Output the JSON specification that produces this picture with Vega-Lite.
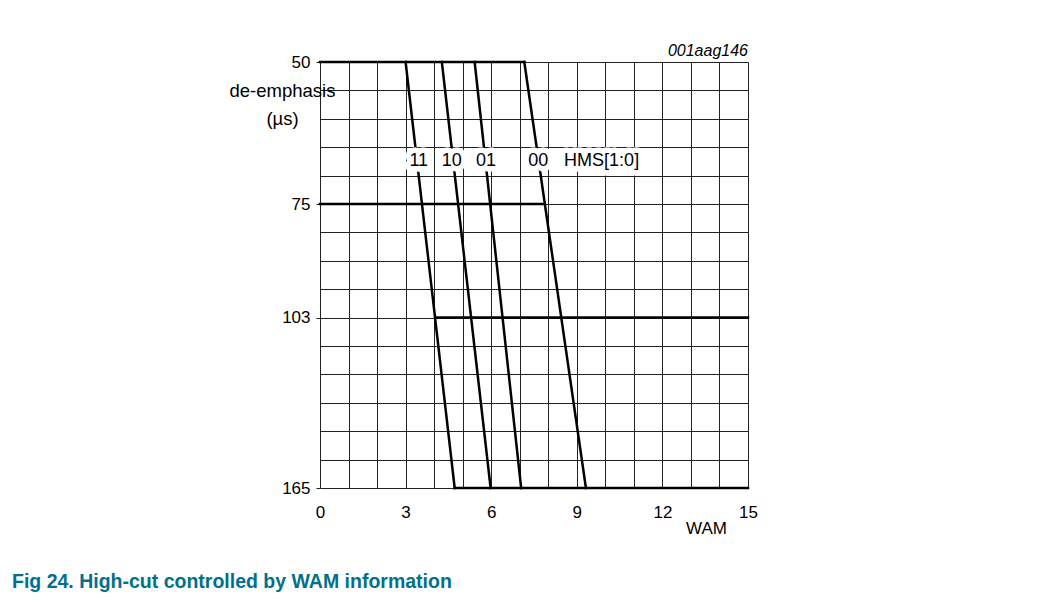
{
  "$schema": "https://vega.github.io/schema/vega-lite/v6.json",
  "width": 428,
  "height": 426,
  "autosize": {"type": "none"},
  "padding": {"left": 320, "top": 62, "right": 305, "bottom": 115},
  "background": "white",
  "config": {"view": {"stroke": null}, "font": "Liberation Sans"},
  "title": {
    "text": "Fig 24. High-cut controlled by WAM information",
    "orient": "bottom",
    "anchor": "start",
    "frame": "group",
    "dx": -308,
    "offset": 37,
    "font": "Liberation Sans",
    "fontSize": 19.5,
    "fontWeight": "bold",
    "color": "#00708c"
  },
  "datasets": {
    "lines": [
      {"series": "50 us", "wam": 0, "deemph": 50},
      {"series": "50 us", "wam": 7.16, "deemph": 50},
      {"series": "75 us", "wam": 0, "deemph": 75},
      {"series": "75 us", "wam": 7.88, "deemph": 75},
      {"series": "103 us", "wam": 4.05, "deemph": 103},
      {"series": "103 us", "wam": 15, "deemph": 103},
      {"series": "165 us", "wam": 4.72, "deemph": 165},
      {"series": "165 us", "wam": 15, "deemph": 165},
      {"series": "11", "wam": 3.0, "deemph": 50},
      {"series": "11", "wam": 4.72, "deemph": 165},
      {"series": "10", "wam": 4.27, "deemph": 50},
      {"series": "10", "wam": 5.98, "deemph": 165},
      {"series": "01", "wam": 5.42, "deemph": 50},
      {"series": "01", "wam": 7.05, "deemph": 165},
      {"series": "00", "wam": 7.16, "deemph": 50},
      {"series": "00", "wam": 9.32, "deemph": 165}
    ],
    "labels": [
      {"label": "11", "wam": 3.46, "deemph": 67.5},
      {"label": "10", "wam": 4.62, "deemph": 67.5},
      {"label": "01", "wam": 5.82, "deemph": 67.5},
      {"label": "00", "wam": 7.65, "deemph": 67.5},
      {"label": "HMS[1:0]", "wam": 9.87, "deemph": 67.5}
    ],
    "figid": [
      {"label": "001aag146", "wam": 15, "deemph": 50}
    ]
  },
  "encoding": {
    "x": {
      "field": "wam",
      "type": "quantitative",
      "scale": {"domain": [0, 15], "nice": false, "zero": false},
      "axis": {
        "values": [0, 1, 2, 3, 4, 5, 6, 7, 8, 9, 10, 11, 12, 13, 14, 15],
        "labelExpr": "datum.value % 3 == 0 ? '' + datum.value : ''",
        "grid": true,
        "gridColor": "#222222",
        "gridWidth": 1,
        "gridOpacity": 1,
        "domain": false,
        "ticks": false,
        "tickSize": 0,
        "labelPadding": 16,
        "labelFontSize": 17,
        "labelFont": "Liberation Sans",
        "labelColor": "black",
        "labelFlush": false,
        "labelOverlap": false,
        "title": "WAM",
        "titleX": 386,
        "titleY": 45,
        "titleAlign": "center",
        "titleBaseline": "alphabetic",
        "titleFontWeight": "normal",
        "titleFontSize": 17,
        "titleFont": "Liberation Sans",
        "titleColor": "black"
      }
    },
    "y": {
      "field": "deemph",
      "type": "quantitative",
      "scale": {"domain": [50, 75, 103, 165], "range": [0, 142, 255.6, 426], "nice": false, "zero": false},
      "axis": {
        "values": [50, 55, 60, 65, 70, 75, 82, 89, 96, 103, 113.3333, 123.6667, 134, 144.3333, 154.6667, 165],
        "labelExpr": "indexof([50, 75, 103, 165], datum.value) >= 0 ? '' + datum.value : ''",
        "grid": true,
        "gridColor": "#222222",
        "gridWidth": 1,
        "gridOpacity": 1,
        "domain": false,
        "ticks": true,
        "tickSize": 4,
        "tickColor": "#222222",
        "tickOpacity": {"condition": {"test": "indexof([50, 75, 103, 165], datum.value) >= 0", "value": 1}, "value": 0},
        "labelPadding": 6,
        "labelFontSize": 17,
        "labelFont": "Liberation Sans",
        "labelColor": "black",
        "labelOverlap": false,
        "labelBound": false,
        "title": ["de-emphasis", "(µs)"],
        "titleAngle": 0,
        "titleAlign": "center",
        "titleBaseline": "top",
        "titleX": -38,
        "titleY": 19,
        "titleLineHeight": 28,
        "titleFontSize": 18.5,
        "titleFontWeight": "normal",
        "titleFont": "Liberation Sans",
        "titleColor": "black"
      }
    }
  },
  "layer": [
    {
      "data": {"name": "lines"},
      "mark": {"type": "line", "color": "black", "strokeWidth": 2.5, "strokeCap": "square"},
      "encoding": {"detail": {"field": "series"}}
    },
    {
      "data": {"name": "labels"},
      "mark": {"type": "text", "font": "Liberation Sans", "fontSize": 18, "align": "center", "baseline": "middle", "fill": "white", "stroke": "white", "strokeWidth": 11, "strokeJoin": "round"},
      "encoding": {"text": {"field": "label"}}
    },
    {
      "data": {"name": "labels"},
      "mark": {"type": "text", "font": "Liberation Sans", "fontSize": 18, "align": "center", "baseline": "middle", "color": "black"},
      "encoding": {"text": {"field": "label"}}
    },
    {
      "data": {"name": "figid"},
      "mark": {"type": "text", "font": "Liberation Sans", "fontSize": 16, "fontStyle": "italic", "align": "right", "baseline": "alphabetic", "dy": -6, "color": "black"},
      "encoding": {"text": {"field": "label"}}
    }
  ]
}
